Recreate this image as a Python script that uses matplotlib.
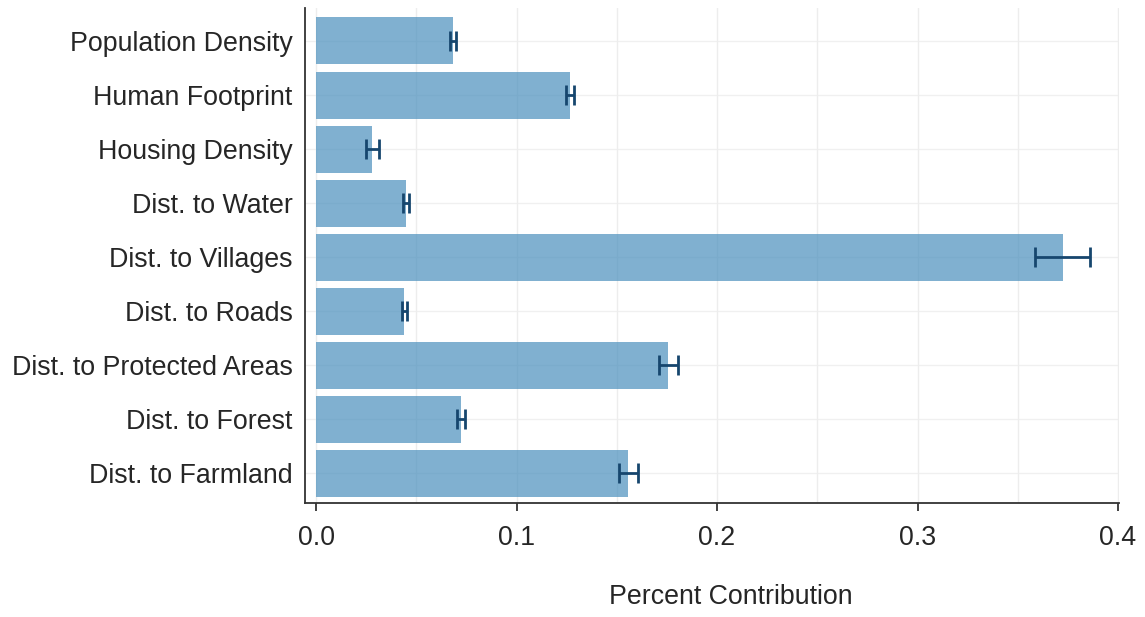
import matplotlib
matplotlib.use("Agg")
import matplotlib.pyplot as plt
import numpy as np
from matplotlib.ticker import MultipleLocator

plt.rcParams['font.family'] = ['Liberation Sans', 'DejaVu Sans']

# variable importance (mean and spread across model runs)
variables = ["Population Density", "Human Footprint", "Housing Density",
             "Dist. to Water", "Dist. to Villages", "Dist. to Roads",
             "Dist. to Protected Areas", "Dist. to Forest", "Dist. to Farmland"]
contribution = [0.0684, 0.1268, 0.0280, 0.0449, 0.3725, 0.0440, 0.1758, 0.0724, 0.1558]
spread = [0.0015, 0.0020, 0.0032, 0.0015, 0.0137, 0.0012, 0.0047, 0.0020, 0.0047]

fig = plt.figure(figsize=(11.45, 6.17), dpi=100)
ax = fig.add_axes([305/1145, 1 - 503/617, (1119 - 305)/1145, (503 - 8)/617])

ypos = np.arange(len(variables))

# faint grid underneath, minor lines at 0.05 steps
ax.xaxis.set_major_locator(MultipleLocator(0.1))
ax.xaxis.set_minor_locator(MultipleLocator(0.05))
ax.grid(axis='x', which='both', color='#ededed', linewidth=1.0, zorder=0)
for y in ypos:
    ax.axhline(y, color='#f0f0f0', linewidth=1.0, zorder=0)

ax.barh(ypos, contribution, height=0.87, color=(0.29, 0.56, 0.74), alpha=0.7,
        linewidth=0, zorder=2)
ax.errorbar(contribution, ypos, xerr=spread, fmt='none', ecolor='#16466e',
            elinewidth=2.0, capsize=7.5, capthick=2.0, zorder=3)

ax.set_xlim(-0.0055, 0.4005)
ax.set_ylim(len(variables) - 1 + 0.546, -0.61)

ax.set_yticks(ypos)
ax.set_yticklabels(variables)
ax.set_xticks([0.0, 0.1, 0.2, 0.3, 0.4])
ax.set_xticklabels(["0.0", "0.1", "0.2", "0.3", "0.4"])

ax.tick_params(axis='y', length=0, pad=9, labelsize=19.3, labelcolor='#262626')
ax.tick_params(axis='x', which='major', length=6, width=1.3, color='#333333',
               pad=10, labelsize=19.3, labelcolor='#262626')
ax.tick_params(axis='x', which='minor', length=0)

for side in ['top', 'right']:
    ax.spines[side].set_visible(False)
for side in ['left', 'bottom']:
    ax.spines[side].set_linewidth(1.3)
    ax.spines[side].set_color('#333333')

ax.set_xlabel("Percent Contribution", fontsize=19.3, color='#262626')
ax.xaxis.set_label_coords(0.523, -0.19)
ax.xaxis.label.set_verticalalignment('center')

fig.savefig("out.png", dpi=100, facecolor='white')
